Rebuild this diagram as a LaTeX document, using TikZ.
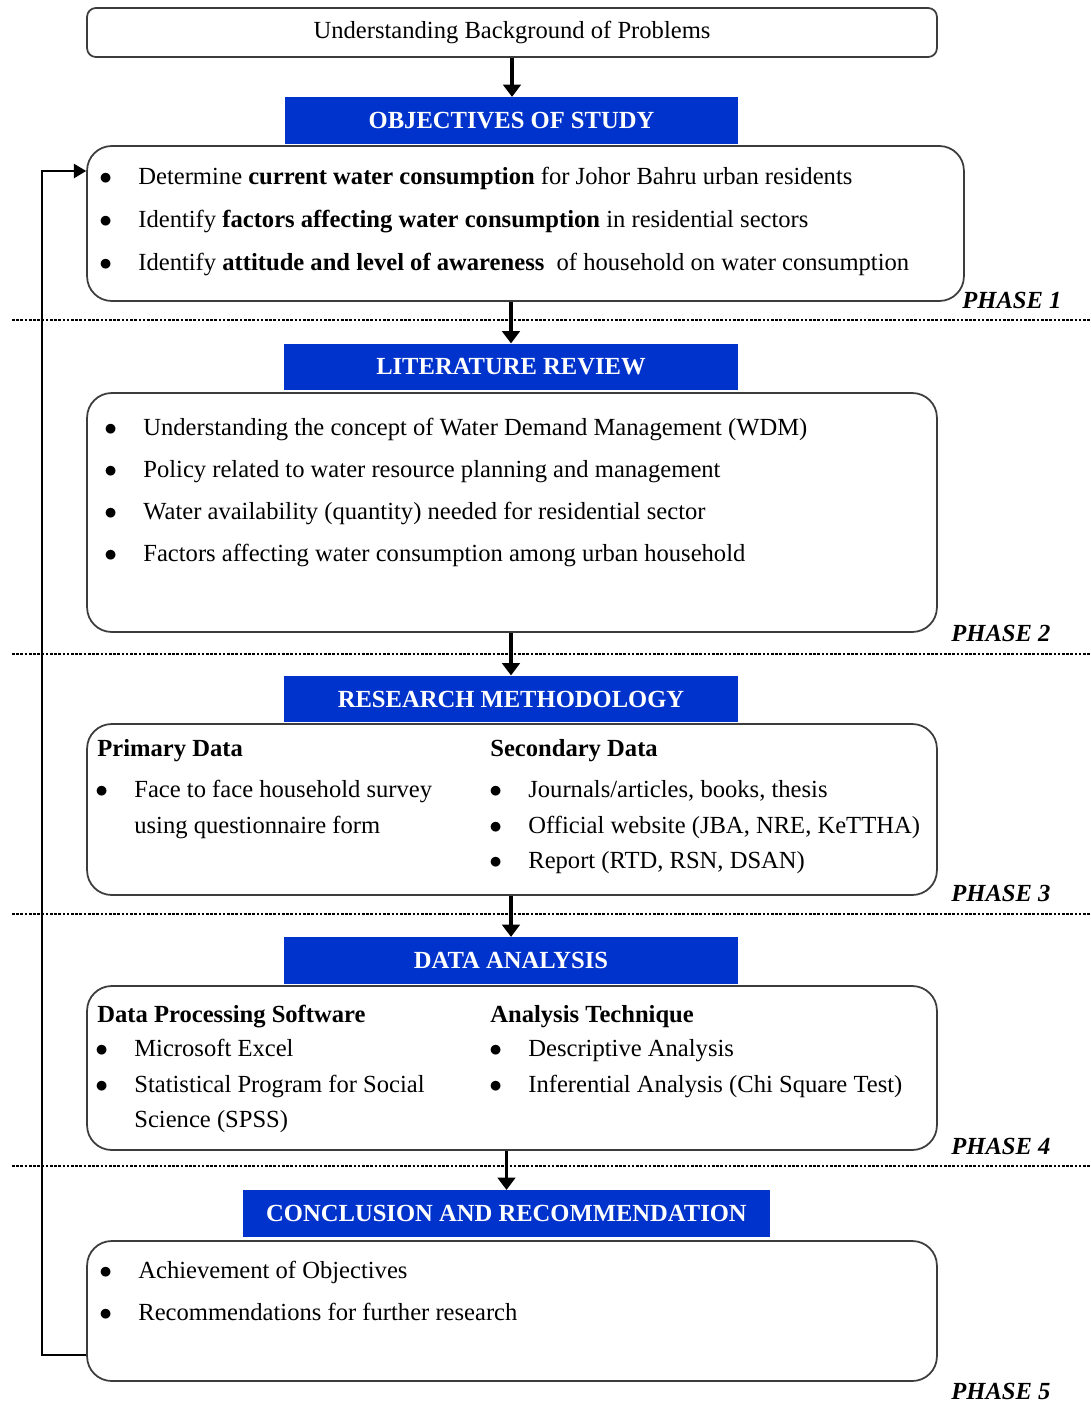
\documentclass[tikz,border=0pt]{standalone}
\usepackage{fontspec}
\setmainfont{Liberation Serif}
\usepackage{xcolor}
\definecolor{headblue}{RGB}{0,51,204}
\definecolor{framegray}{RGB}{60,60,60}
\usetikzlibrary{arrows.meta,positioning}

\begin{document}
\begin{tikzpicture}[x=0.02cm,y=-0.02cm,
  box/.style={draw=framegray,line width=1pt,rounded corners=14pt,inner sep=0pt,minimum width=17cm},
  head/.style={fill=headblue,text=white,minimum width=9.07cm,minimum height=0.93cm,inner sep=0pt,font=\fontsize{14pt}{17pt}\selectfont\bfseries},
  txt/.style={anchor=base west,inner sep=0pt,font=\fontsize{14pt}{17pt}\selectfont},
  itm/.style={txt,execute at begin node={\llap{$\bullet$\hspace{15pt}}}},
  sub/.style={txt,font=\fontsize{14pt}{17pt}\selectfont\bfseries},
  phase/.style={txt,font=\fontsize{14pt}{17pt}\selectfont\bfseries\itshape},
  flow/.style={line width=1.8pt,-{Triangle[width=10pt,length=7pt]}},
  back/.style={line width=1.3pt,-{Triangle[width=8pt,length=7pt]}},
  sep/.style={line width=1.6pt,dash pattern=on 1.5pt off 0.9pt}
]
  \useasboundingbox (0,0) rectangle (1090,1402);

  % Phase separators
  \draw[sep] (12,320) -- (1090,320);
  \draw[sep] (12,654) -- (1090,654);
  \draw[sep] (12,914) -- (1090,914);
  \draw[sep] (12,1166) -- (1090,1166);

  % Start
  \node[box,rounded corners=5pt,minimum height=0.98cm,font=\fontsize{14pt}{17pt}\selectfont] (start) at (512,32.5) {Understanding Background of Problems};

  % Phase 1
  \node[head] (objhead) at (511.5,120.5) {OBJECTIVES OF STUDY};
  \node[box,minimum width=17.54cm,minimum height=3.1cm] (objbox) at (525.5,223.5) {};
  \node[itm] (obj1) at (138,185) {Determine {\bfseries current water consumption} for Johor Bahru urban residents};
  \node[itm] (obj2) at (138,228) {Identify {\bfseries factors affecting water consumption} in residential sectors};
  \node[itm] (obj3) at (138,270) {Identify {\bfseries attitude and level of awareness}\ \ of household on water consumption};
  \node[phase] (ph1) at (962,308) {PHASE 1};

  % Phase 2
  \node[head] (lithead) at (511,367) {LITERATURE REVIEW};
  \node[box,minimum height=4.78cm] (litbox) at (512,512.5) {};
  \node[itm] (lit1) at (143,435) {Understanding the concept of Water Demand Management (WDM)};
  \node[itm] (lit2) at (143,477) {Policy related to water resource planning and management};
  \node[itm] (lit3) at (143,519) {Water availability (quantity) needed for residential sector};
  \node[itm] (lit4) at (143,561) {Factors affecting water consumption among urban household};
  \node[phase] (ph2) at (951,641) {PHASE 2};

  % Phase 3
  \node[head] (methead) at (511,699) {RESEARCH METHODOLOGY};
  \node[box,minimum height=3.42cm] (metbox) at (512,809.5) {};
  \node[sub] (prim) at (97,756) {Primary Data};
  \node[itm] (prim1) at (134,797) {Face to face household survey};
  \node[txt] (prim2) at (134,833) {using questionnaire form};
  \node[sub] (sec) at (490,756) {Secondary Data};
  \node[itm] (sec1) at (528,797) {Journals/articles, books, thesis};
  \node[itm] (sec2) at (528,833) {Official website (JBA, NRE, KeTTHA)};
  \node[itm] (sec3) at (528,868) {Report (RTD, RSN, DSAN)};
  \node[phase] (ph3) at (951,901) {PHASE 3};

  % Phase 4
  \node[head] (anahead) at (511,960.5) {DATA ANALYSIS};
  \node[box,minimum height=3.28cm] (anabox) at (512,1068) {};
  \node[sub] (soft) at (97,1022) {Data Processing Software};
  \node[itm] (soft1) at (134,1056) {Microsoft Excel};
  \node[itm] (soft2) at (134,1092) {Statistical Program for Social};
  \node[txt] (soft3) at (134,1127) {Science (SPSS)};
  \node[sub] (tech) at (490,1022) {Analysis Technique};
  \node[itm] (tech1) at (528,1056) {Descriptive Analysis};
  \node[itm] (tech2) at (528,1092) {Inferential Analysis (Chi Square Test)};
  \node[phase] (ph4) at (951,1154) {PHASE 4};

  % Phase 5
  \node[head,minimum width=10.54cm] (conhead) at (506.5,1213.5) {CONCLUSION AND RECOMMENDATION};
  \node[box,minimum height=2.8cm] (conbox) at (512,1311) {};
  \node[itm] (con1) at (138,1278) {Achievement of Objectives};
  \node[itm] (con2) at (138,1320) {Recommendations for further research};
  \node[phase] (ph5) at (951,1399) {PHASE 5};

  % Arrows
  \draw[flow] (start) -- (start |- objhead.north);
  \draw[flow] (objbox.south -| lithead) -- (lithead);
  \draw[flow] (litbox.south -| methead) -- (methead);
  \draw[flow] (metbox.south -| anahead) -- (anahead);
  \draw[flow] (anabox.south -| conhead) -- (conhead);
  \draw[back] ([yshift=-0.88cm]conbox.west) -- ++(-0.88cm,0) |- ([yshift=1.05cm]objbox.west);
\end{tikzpicture}
\end{document}
